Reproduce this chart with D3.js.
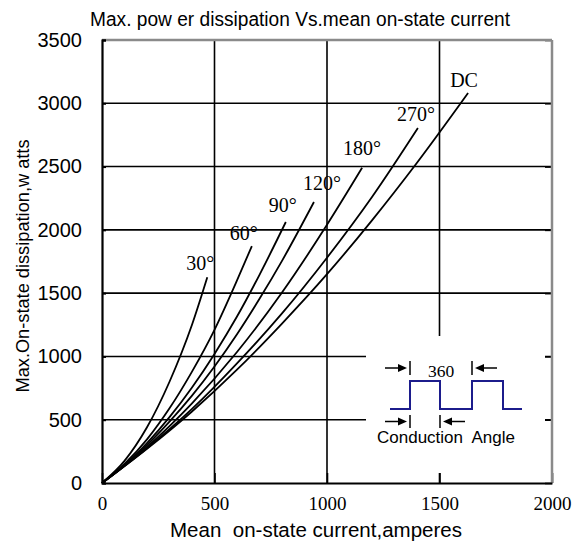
<!DOCTYPE html>
<html>
<head>
<meta charset="utf-8">
<script src="https://cdn.jsdelivr.net/npm/d3@7"></script>
<style>
  body { margin: 0; background: #fff; }
  svg { display: block; }
  text { white-space: pre; }
</style>
</head>
<body>
<div id="chart"></div>
<script>
/* Max. power dissipation vs mean on-state current, one curve per conduction angle */

// conduction angles (series names)
const angles = ["30°", "60°", "90°", "120°", "180°", "270°", "DC"];

// mean on-state current (A) read for each curve
const current30  = [0, 100, 200, 300, 400, 468];
const current60  = [0, 100, 200, 300, 400, 500, 600, 666];
const current90  = [0, 100, 200, 300, 400, 500, 600, 700, 817];
const current120 = [0, 100, 200, 300, 400, 500, 600, 700, 800, 942];
const current180 = [0, 200, 400, 600, 800, 1000, 1156];
const current270 = [0, 200, 400, 600, 800, 1000, 1200, 1404];
const currentDC  = [0, 200, 400, 600, 800, 1000, 1200, 1400, 1627];

// max. on-state dissipation (W) read for each curve
const power30  = [0, 175, 440, 800, 1250, 1625];
const power60  = [0, 150, 345, 590, 880, 1210, 1600, 1872];
const power90  = [0, 140, 315, 520, 755, 1020, 1315, 1645, 2062];
const power120 = [0, 138, 300, 485, 690, 920, 1175, 1455, 1755, 2220];
const power180 = [0, 285, 630, 1035, 1505, 2040, 2490];
const power270 = [0, 275, 585, 945, 1340, 1780, 2260, 2805];
const powerDC  = [0, 270, 565, 895, 1260, 1650, 2075, 2530, 3081];

// tick labels
const xTicks = [0, 500, 1000, 1500, 2000];
const yTicks = [0, 500, 1000, 1500, 2000, 2500, 3000, 3500];

const currents = [current30, current60, current90, current120, current180, current270, currentDC];
const powers = [power30, power60, power90, power120, power180, power270, powerDC];

const series = angles.map((name, i) => ({
    name: name,
    points: currents[i].map((c, j) => [c, powers[i][j]])
}));

const width = 575,
      height = 546,
      margin = ({ top: 40, right: 23, bottom: 63, left: 102 });

const svg = d3.select("#chart")
    .append("svg")
    .attr("width", width)
    .attr("height", height);

const x = d3.scaleLinear()
    .domain([0, 2000])
    .range([margin.left, width - margin.right]);

const y = d3.scaleLinear()
    .domain([0, 3500])
    .range([height - margin.bottom, margin.top]);

const sans = "'Liberation Sans', Arial, sans-serif",
      serif = "'Liberation Serif', 'Times New Roman', serif";

// grid lines
svg.append("g")
    .selectAll("line")
    .data(yTicks.slice(1, -1))
    .join("line")
    .attr("x1", margin.left)
    .attr("x2", width - margin.right)
    .attr("y1", d => y(d))
    .attr("y2", d => y(d))
    .attr("stroke", "#000")
    .attr("stroke-width", 1.6);

svg.append("g")
    .selectAll("line")
    .data(xTicks.slice(1, -1))
    .join("line")
    .attr("x1", d => x(d))
    .attr("x2", d => x(d))
    .attr("y1", margin.top)
    .attr("y2", height - margin.bottom)
    .attr("stroke", "#000")
    .attr("stroke-width", 1.6);

// white box behind the waveform inset (hides the grid there)
svg.append("rect")
    .attr("x", 366)
    .attr("y", 336)
    .attr("width", 179)
    .attr("height", 137)
    .attr("fill", "#fff");

// inward tick marks on right and bottom (seen inside the inset box)
svg.append("g")
    .attr("transform", `translate(${width - margin.right},0)`)
    .call(d3.axisRight(y).tickValues(yTicks).tickSize(-7).tickFormat(""))
    .call(g => g.select(".domain").remove())
    .selectAll("line").attr("stroke-width", 1.6);

svg.append("g")
    .attr("transform", `translate(0,${height - margin.bottom})`)
    .call(d3.axisBottom(x).tickValues(xTicks).tickSize(-10).tickFormat(""))
    .call(g => g.select(".domain").remove())
    .selectAll("line").attr("stroke-width", 1.6);

// frame: top and right grey, left and bottom black
svg.append("line")
    .attr("x1", margin.left).attr("x2", width - margin.right)
    .attr("y1", margin.top).attr("y2", margin.top)
    .attr("stroke", "#8a8a8a").attr("stroke-width", 2.5);
svg.append("line")
    .attr("x1", width - margin.right).attr("x2", width - margin.right)
    .attr("y1", margin.top).attr("y2", height - margin.bottom)
    .attr("stroke", "#8a8a8a").attr("stroke-width", 2.5);

svg.append("g")
    .attr("transform", `translate(${margin.left},0)`)
    .call(d3.axisLeft(y).tickValues(yTicks).tickSize(-4).tickPadding(20).tickFormat(d3.format("d")))
    .call(g => g.select(".domain").attr("stroke-width", 2.2))
    .call(g => g.selectAll(".tick line").attr("stroke-width", 2))
    .call(g => g.selectAll(".tick text")
        .attr("font-family", sans)
        .attr("font-size", 20)
        .attr("fill", "#000"));

svg.append("g")
    .attr("transform", `translate(0,${height - margin.bottom})`)
    .call(d3.axisBottom(x).tickValues(xTicks).tickSize(0).tickPadding(14).tickFormat(d3.format("d")))
    .call(g => g.select(".domain").attr("stroke-width", 2.2))
    .call(g => g.selectAll(".tick text")
        .attr("font-family", serif)
        .attr("font-size", 19)
        .attr("fill", "#000"));

// curves
const line = d3.line()
    .x(d => x(d[0]))
    .y(d => y(d[1]))
    .curve(d3.curveMonotoneX);

svg.append("g")
    .selectAll("path")
    .data(series)
    .join("path")
    .attr("d", d => line(d.points))
    .attr("fill", "none")
    .attr("stroke", "#000")
    .attr("stroke-width", 1.8);

// curve labels, placed above the end of each curve
const labelShift = [[-7, -7], [-8, -6], [-3, -10], [8, -12], [0, -13], [-2, -7], [-4, -6]];

svg.append("g")
    .selectAll("text")
    .data(series)
    .join("text")
    .attr("x", (d, i) => x(d.points[d.points.length - 1][0]) + labelShift[i][0])
    .attr("y", (d, i) => y(d.points[d.points.length - 1][1]) + labelShift[i][1])
    .attr("text-anchor", "middle")
    .attr("font-family", serif)
    .attr("font-size", 20)
    .text(d => d.name);

// title and axis labels
svg.append("text")
    .attr("x", 90)
    .attr("y", 26)
    .attr("font-family", sans)
    .attr("font-size", 20)
    .attr("textLength", 420)
    .attr("lengthAdjust", "spacingAndGlyphs")
    .text("Max. pow er dissipation Vs.mean on-state current");

svg.append("text")
    .attr("x", 316)
    .attr("y", 537)
    .attr("text-anchor", "middle")
    .attr("font-family", sans)
    .attr("font-size", 20.5)
    .attr("textLength", 292)
    .attr("lengthAdjust", "spacingAndGlyphs")
    .text("Mean  on-state current,amperes");

svg.append("text")
    .attr("transform", "translate(29,266) rotate(-90)")
    .attr("text-anchor", "middle")
    .attr("font-family", sans)
    .attr("font-size", 19)
    .attr("textLength", 253)
    .attr("lengthAdjust", "spacingAndGlyphs")
    .text("Max.On-state dissipation,w atts");

// waveform inset
const inset = svg.append("g");
const navy = "#1c1c8c";

const wave = [[390, 409], [410, 409], [410, 381], [440, 381], [440, 409],
              [472, 409], [472, 381], [503, 381], [503, 409], [522, 409]];
inset.append("path")
    .attr("d", d3.line()(wave))
    .attr("fill", "none")
    .attr("stroke", navy)
    .attr("stroke-width", 2);

function marker(bx, y0, y1, dir) {
    // vertical bar with an arrow pointing at it
    inset.append("line")
        .attr("x1", bx).attr("x2", bx).attr("y1", y0).attr("y2", y1)
        .attr("stroke", "#000").attr("stroke-width", 1.5);
    const ym = (y0 + y1) / 2,
          tip = bx - dir * 3,
          tail = bx - dir * 25;
    inset.append("line")
        .attr("x1", tail).attr("x2", tip - dir * 6).attr("y1", ym).attr("y2", ym)
        .attr("stroke", "#000").attr("stroke-width", 1.5);
    inset.append("path")
        .attr("d", `M${tip},${ym}L${tip - dir * 9},${ym - 4}L${tip - dir * 9},${ym + 4}Z`)
        .attr("fill", "#000");
}
marker(410, 361, 375, 1);
marker(472, 361, 375, -1);
marker(410, 415, 428, 1);
marker(440, 415, 428, -1);

inset.append("text")
    .attr("x", 441).attr("y", 377)
    .attr("text-anchor", "middle")
    .attr("font-family", serif)
    .attr("font-size", 17.5)
    .text("360");

inset.append("text")
    .attr("x", 377).attr("y", 443)
    .attr("font-family", sans)
    .attr("font-size", 17)
    .attr("textLength", 138)
    .attr("lengthAdjust", "spacingAndGlyphs")
    .text("Conduction  Angle");
</script>
</body>
</html>
